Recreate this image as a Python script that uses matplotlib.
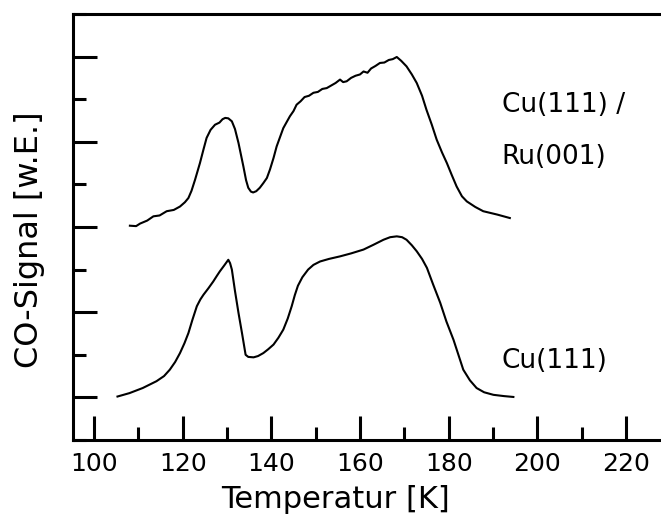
import matplotlib
matplotlib.use("Agg")
import matplotlib.pyplot as plt
from matplotlib.ticker import MultipleLocator

plt.rcParams['font.family'] = ['DejaVu Sans']

# CO desorption traces, temperature in K, signal in arbitrary units (offset stacked)
temp_cu_ru = [108.1, 109.5, 110.4, 112.0, 113.4, 114.8, 116.4, 118.0, 119.4, 120.5,
              121.3, 122.0, 122.8, 123.9, 124.7, 125.4, 126.3, 127.3, 128.3, 129.0,
              129.6, 130.3, 131.1, 131.8, 132.6, 133.7, 134.3, 134.8, 135.4, 135.9,
              136.6, 137.4, 138.2, 139.0, 139.7, 140.5, 141.2, 142.0, 142.7, 143.5,
              144.2, 145.0, 145.7, 146.6, 147.5, 148.5, 149.5, 150.5, 151.5, 152.5,
              153.5, 154.5, 155.5, 156.2, 157.0, 158.0, 159.0, 160.0, 160.8, 161.7,
              162.5, 163.5, 164.5, 165.5, 166.5, 167.4, 168.3, 169.3, 170.5, 171.7,
              172.8, 174.0, 175.0, 176.2, 177.3, 178.5, 179.6, 180.7, 181.8, 183.0,
              184.1, 186.0, 187.8, 191.0, 193.8]
signal_cu_ru = [4.03, 4.02, 4.08, 4.15, 4.25, 4.27, 4.37, 4.40, 4.48, 4.58,
                4.68, 4.85, 5.11, 5.50, 5.82, 6.09, 6.28, 6.40, 6.45, 6.53,
                6.56, 6.55, 6.48, 6.30, 5.97, 5.42, 5.10, 4.92, 4.83, 4.81,
                4.84, 4.92, 5.03, 5.15, 5.35, 5.62, 5.89, 6.12, 6.32, 6.47,
                6.60, 6.72, 6.87, 6.95, 7.05, 7.08, 7.15, 7.17, 7.24, 7.26,
                7.32, 7.38, 7.46, 7.40, 7.42, 7.50, 7.55, 7.58, 7.65, 7.62,
                7.72, 7.78, 7.85, 7.86, 7.92, 7.94, 7.99, 7.90, 7.77, 7.58,
                7.38, 7.08, 6.75, 6.40, 6.05, 5.75, 5.50, 5.22, 4.95, 4.72,
                4.60, 4.47, 4.37, 4.29, 4.21]

temp_cu = [105.3, 108.0, 111.0, 114.1, 115.8, 117.1, 118.3, 119.4, 120.4, 121.3,
           122.2, 123.2, 124.0, 124.7, 125.8, 126.9, 127.7, 128.4, 129.4, 130.3,
           130.7, 131.1, 131.8, 132.6, 133.4, 134.2, 134.8, 136.0, 137.0, 138.2,
           139.3, 140.5, 141.6, 142.7, 143.7, 144.6, 145.3, 146.0, 147.0, 148.3,
           149.5, 151.0, 153.0, 155.5, 158.0, 160.8, 163.0, 165.3, 166.8, 168.3,
           169.5, 170.5, 171.7, 172.8, 174.0, 175.1, 176.5, 178.1, 179.5, 181.1,
           182.2, 183.3, 184.8, 186.3, 188.0, 190.1, 192.5, 194.6]
signal_cu = [0.02, 0.10, 0.22, 0.38, 0.50, 0.65, 0.83, 1.04, 1.27, 1.51,
             1.82, 2.14, 2.30, 2.41, 2.56, 2.72, 2.85, 2.96, 3.10, 3.23,
             3.15, 3.00, 2.50, 1.98, 1.50, 1.00, 0.95, 0.94, 0.97, 1.04,
             1.13, 1.24, 1.40, 1.59, 1.85, 2.14, 2.40, 2.62, 2.82, 3.00,
             3.11, 3.19, 3.25, 3.31, 3.38, 3.47, 3.58, 3.70, 3.76, 3.78,
             3.76, 3.70, 3.57, 3.43, 3.25, 3.04, 2.65, 2.22, 1.78, 1.35,
             1.00, 0.65, 0.40, 0.22, 0.12, 0.06, 0.03, 0.01]

x_ticks = [100, 120, 140, 160, 180, 200, 220]

fig = plt.figure(figsize=(6.61, 5.21), dpi=100)
ax = fig.add_axes([0.1104, 0.1555, 0.8896, 0.8177])

ax.plot(temp_cu_ru, signal_cu_ru, color='black', lw=1.5)
ax.plot(temp_cu, signal_cu, color='black', lw=1.5)

ax.text(192.0, 6.87, 'Cu(111) /', fontsize=19, va='center', ha='left')
ax.text(192.0, 5.65, 'Ru(001)', fontsize=19, va='center', ha='left')
ax.text(192.0, 0.86, 'Cu(111)', fontsize=19, va='center', ha='left')

ax.set_xlim(95.26, 227.9)
ax.set_ylim(-1, 9)

ax.set_xticks(x_ticks)
ax.xaxis.set_minor_locator(MultipleLocator(10))
ax.yaxis.set_major_locator(MultipleLocator(2))
ax.yaxis.set_minor_locator(MultipleLocator(1))
ax.set_yticklabels([])
ax.tick_params(which='major', direction='in', length=17.5, width=2.2, labelsize=18, pad=9)
ax.tick_params(which='minor', direction='in', length=9.5, width=2.2)
ax.tick_params(axis='y', which='both', left=True, right=False)
ax.tick_params(axis='x', which='both', top=False)

for side in ['left', 'bottom', 'top']:
    ax.spines[side].set_linewidth(2.2)
ax.spines['right'].set_visible(False)

ax.set_xlabel('Temperatur [K]', fontsize=22)
ax.xaxis.set_label_coords(0.447, -0.105)
ax.set_ylabel('CO-Signal [w.E.]', fontsize=23)
ax.yaxis.set_label_coords(-0.048, 0.469)

fig.savefig('out.png', dpi=100)
